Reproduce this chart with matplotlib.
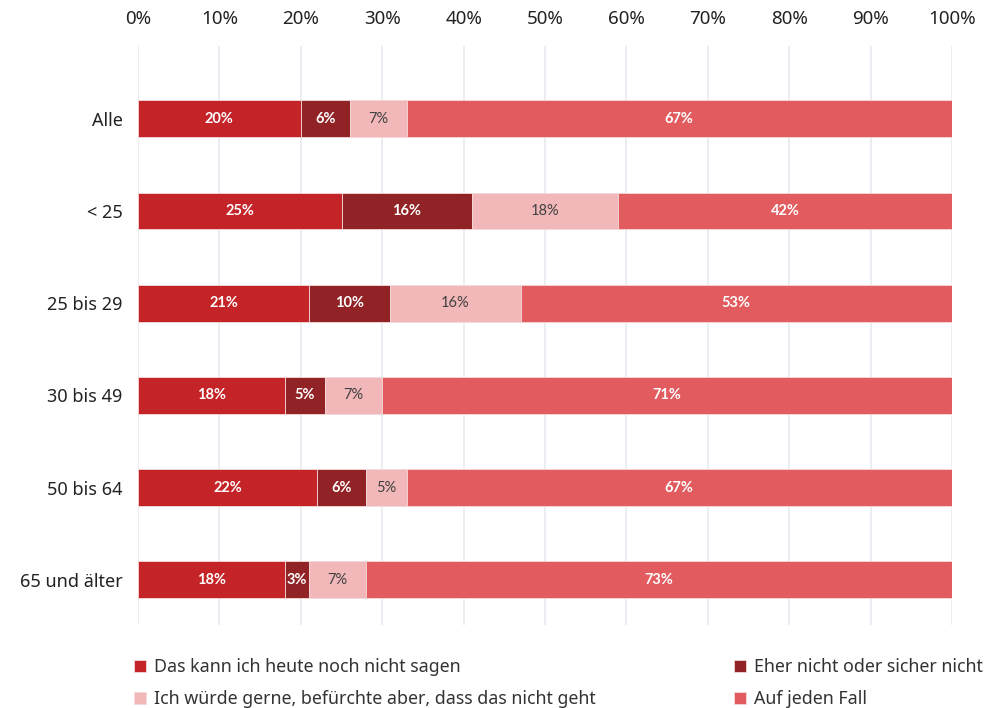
import numpy as np
import matplotlib.pyplot as plt

groups = ["Alle", "< 25", "25 bis 29", "30 bis 49", "50 bis 64", "65 und älter"]
answers = [
    "Das kann ich heute noch nicht sagen",
    "Eher nicht oder sicher nicht",
    "Ich würde gerne, befürchte aber, dass das nicht geht",
    "Auf jeden Fall",
]
noch_nicht = [20, 25, 21, 18, 22, 18]
eher_nicht = [6, 16, 10, 5, 6, 3]
wuerde_gerne = [7, 18, 16, 7, 5, 7]
auf_jeden_fall = [67, 42, 53, 71, 67, 73]

colors = ["#C42327", "#912327", "#F2B8B9", "#E25C5F"]
label_colors = ["white", "white", "#404040", "white"]

fig = plt.figure(figsize=(9.89, 7.08), dpi=100)
ax = fig.add_axes([138 / 989, 83 / 708, 814 / 989, 579 / 708])

y = np.arange(len(groups))
left = np.zeros(len(groups))
bars = []
for vals, col, lc in zip([noch_nicht, eher_nicht, wuerde_gerne, auf_jeden_fall], colors, label_colors):
    vals = np.array(vals, dtype=float)
    b = ax.barh(y, vals, left=left, height=0.4, color=col, edgecolor="#F4D9DA", linewidth=0.6, zorder=2)
    bars.append(b)
    for yi, l, v in zip(y, left, vals):
        right = min(l + v, 100)
        ax.text((l + right) / 2, yi, f"{int(v)}%", ha="center", va="center",
                color=lc, fontsize=10.5, family="Lato",
                fontweight="normal" if lc != "white" else "bold", zorder=3)
    left = left + vals

ax.set_xlim(0, 100)
ax.set_ylim(5.49, -0.79)
ax.set_yticks(y)
ax.set_yticklabels(groups, fontsize=13, family="Noto Sans", color="#222222")
ax.set_xticks(np.arange(0, 101, 10))
ax.set_xticklabels([f"{t}%" for t in range(0, 101, 10)], fontsize=13.5, family="Noto Sans", color="#222222")
ax.xaxis.tick_top()
ax.tick_params(axis="both", length=0)
ax.tick_params(axis="x", pad=13)
ax.tick_params(axis="y", pad=11)
ax.grid(axis="x", color="#E6EAF0", linewidth=1.2, zorder=0)
ax.set_axisbelow(True)
for s in ax.spines.values():
    s.set_visible(False)

leg_kw = dict(frameon=False, handlelength=0.7, handleheight=0.7,
              handletextpad=0.45, labelspacing=0.8, borderaxespad=0, borderpad=0,
              prop={"family": "Noto Sans", "size": 12.8})
l1 = fig.legend([bars[0], bars[2]], [answers[0], answers[2]], loc="upper left",
                bbox_to_anchor=(134 / 989, 1 - 658 / 708), **leg_kw)
l2 = fig.legend([bars[1], bars[3]], [answers[1], answers[3]], loc="upper left",
                bbox_to_anchor=(734 / 989, 1 - 658 / 708), **leg_kw)
for leg in (l1, l2):
    for t in leg.get_texts():
        t.set_color("#333333")

fig.savefig("out.png", dpi=100)
